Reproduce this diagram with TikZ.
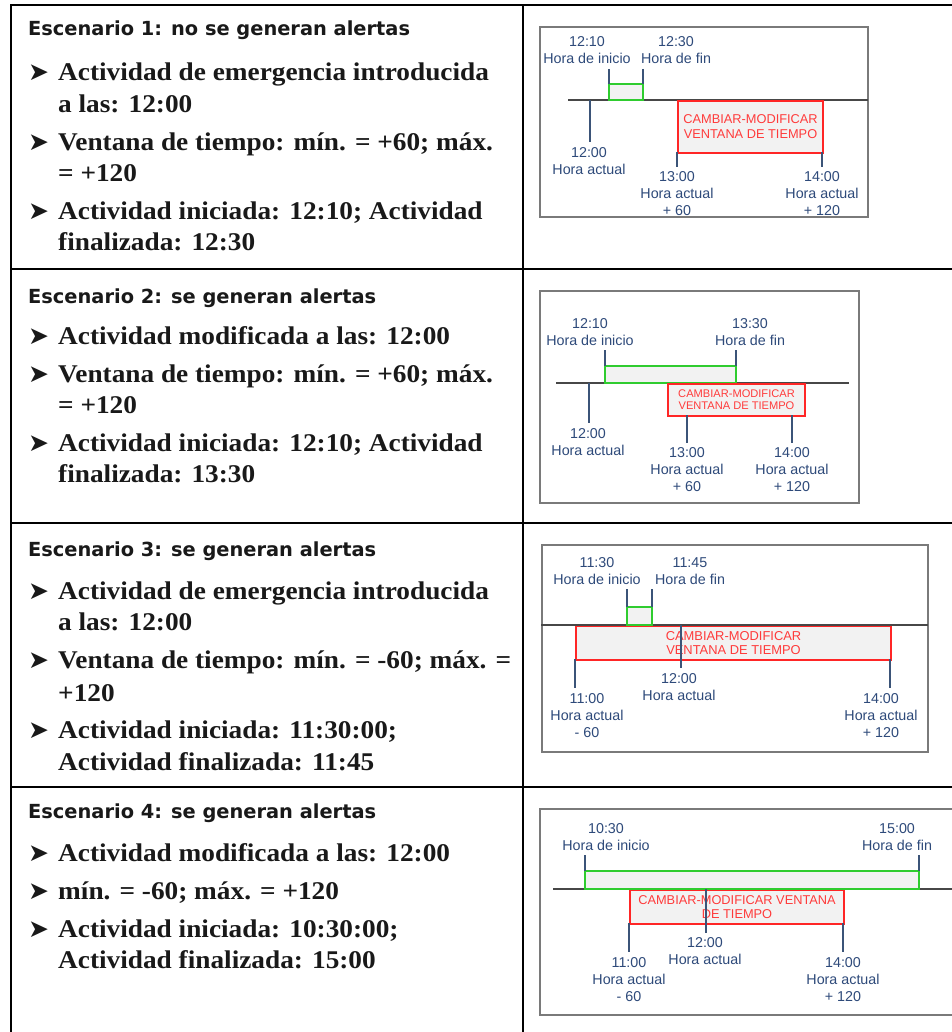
\documentclass[tikz,border=0pt]{standalone}
\usepackage{fontspec}
\newfontfamily\headfont{DejaVu Sans}
\newfontfamily\diafont{Liberation Sans}
\newfontfamily\symfont{DejaVu Sans}
\newfontfamily\itemfont{Liberation Serif}[FakeStretch=1.07]
\definecolor{framegray}{HTML}{7A7A7A}
\definecolor{axisgray}{HTML}{474747}
\definecolor{tickblue}{HTML}{3B5478}
\definecolor{lblue}{HTML}{2E4A7A}
\definecolor{winred}{HTML}{FF2626}
\definecolor{wintxt}{HTML}{FF3B3B}
\definecolor{spangreen}{HTML}{2FCC2F}
\definecolor{boxfill}{HTML}{F2F2F2}
\begin{document}
\begin{tikzpicture}[x=1pt,y=-1pt,
  tbl/.style={draw=black, line width=2.2pt},
  frame/.style={draw=framegray, line width=2pt},
  axis/.style={draw=axisgray, line width=1.5pt},
  tick/.style={draw=tickblue, line width=1.3pt},
  span/.style={draw=spangreen, fill=boxfill, line width=2pt},
  win/.style={draw=winred, fill=boxfill, line width=2pt, inner sep=0pt, anchor=north west, text=wintxt, align=center},
  lbl/.style={font=\diafont\fontsize{14.3}{17}\selectfont, text=lblue, align=center, inner sep=0pt, anchor=north},
  head/.style={font=\headfont\bfseries\fontsize{19.4}{23}\selectfont, text=black!90, anchor=base west, inner sep=0pt},
  itemtxt/.style={font=\itemfont\bfseries\fontsize{25.5}{30}\selectfont, text=black!90, anchor=base west, inner sep=0pt},
  arrowmark/.style={font=\symfont\fontsize{25}{30}\selectfont, text=black!90, anchor=base west, inner sep=0pt}]
\useasboundingbox (0,0) rectangle (951,1032);
\fill[white] (0,0) rectangle (951,1032);

% table rules
\draw[tbl] (960,5) -- (11,5) -- (11,1040);
\draw[tbl] (523,5) -- (523,1040);
\draw[tbl] (11,269) -- (960,269);
\draw[tbl] (11,523) -- (960,523);
\draw[tbl] (11,787) -- (960,787);

% ---------- left column: scenario texts ----------
\node[head] (h1) at (28,36) {Escenario 1: no se generan alertas};
\node[arrowmark] (m11) at (28,81) {➤};
\node[itemtxt] (t11) at (58,81) {Actividad de emergencia introducida};
\node[itemtxt] (t12) at (58,113) {a las: 12:00};
\node[arrowmark] (m12) at (28,151) {➤};
\node[itemtxt] (t13) at (58,151) {Ventana de tiempo: mín. = +60; máx.};
\node[itemtxt] (t14) at (58,182) {= +120};
\node[arrowmark] (m13) at (28,219) {➤};
\node[itemtxt] (t15) at (58,219) {Actividad iniciada: 12:10; Actividad};
\node[itemtxt] (t16) at (58,250) {finalizada: 12:30};

\node[head] (h2) at (28,303) {Escenario 2: se generan alertas};
\node[arrowmark] (m21) at (28,344) {➤};
\node[itemtxt] (t21) at (58,344) {Actividad modificada a las: 12:00};
\node[arrowmark] (m22) at (28,382) {➤};
\node[itemtxt] (t22) at (58,382) {Ventana de tiempo: mín. = +60; máx.};
\node[itemtxt] (t23) at (58,413) {= +120};
\node[arrowmark] (m23) at (28,451) {➤};
\node[itemtxt] (t24) at (58,451) {Actividad iniciada: 12:10; Actividad};
\node[itemtxt] (t25) at (58,482) {finalizada: 13:30};

\node[head] (h3) at (28,556) {Escenario 3: se generan alertas};
\node[arrowmark] (m31) at (28,599) {➤};
\node[itemtxt] (t31) at (58,599) {Actividad de emergencia introducida};
\node[itemtxt] (t32) at (58,630) {a las: 12:00};
\node[arrowmark] (m32) at (28,668) {➤};
\node[itemtxt] (t33) at (58,668) {Ventana de tiempo: mín. = -60; máx. =};
\node[itemtxt] (t34) at (58,701) {+120};
\node[arrowmark] (m33) at (28,738) {➤};
\node[itemtxt] (t35) at (58,738) {Actividad iniciada: 11:30:00;};
\node[itemtxt] (t36) at (58,770) {Actividad finalizada: 11:45};

\node[head] (h4) at (28,818) {Escenario 4: se generan alertas};
\node[arrowmark] (m41) at (28,861) {➤};
\node[itemtxt] (t41) at (58,861) {Actividad modificada a las: 12:00};
\node[arrowmark] (m42) at (28,899) {➤};
\node[itemtxt] (t42) at (58,899) {mín. = -60; máx. = +120};
\node[arrowmark] (m43) at (28,937) {➤};
\node[itemtxt] (t43) at (58,937) {Actividad iniciada: 10:30:00;};
\node[itemtxt] (t44) at (58,968) {Actividad finalizada: 15:00};

% ---------- timeline 1 ----------
\draw[frame] (540,27) rectangle (868,217);
\draw[axis] (568,100) -- (868,100);
\draw[span] (609,84) rectangle (643,100);
\draw[tick] (609,69) -- (609,84);
\draw[tick] (643,69) -- (643,84);
\node[lbl] (a1start) at (587,36) {12:10\\Hora de inicio};
\node[lbl] (a1end) at (676,36) {12:30\\Hora de fin};
\draw[tick] (590,100) -- (590,142);
\node[lbl] (a1now) at (589,147) {12:00\\Hora actual};
\node[win, minimum width=145pt, minimum height=52pt,
      font=\diafont\fontsize{12.8}{15}\selectfont] (a1win) at (677,100)
      {CAMBIAR-MODIFICAR\\VENTANA DE TIEMPO};
\draw[tick] (677,152) -- (677,167);
\draw[tick] (822,152) -- (822,167);
\node[lbl] (a1min) at (677,171) {13:00\\Hora actual\\+ 60};
\node[lbl] (a1max) at (822,171) {14:00\\Hora actual\\+ 120};

% ---------- timeline 2 ----------
\draw[frame] (540,291) rectangle (859,503);
\draw[axis] (556,383) -- (849,383);
\draw[span] (605,366) rectangle (736,383);
\draw[tick] (605,350) -- (605,366);
\draw[tick] (736,350) -- (736,366);
\node[lbl] (a2start) at (590,318) {12:10\\Hora de inicio};
\node[lbl] (a2end) at (750,318) {13:30\\Hora de fin};
\draw[tick] (589,383) -- (589,423);
\node[lbl] (a2now) at (588,428) {12:00\\Hora actual};
\node[win, minimum width=137pt, minimum height=32pt,
      font=\diafont\fontsize{11.1}{12}\selectfont] (a2win) at (667,383)
      {CAMBIAR-MODIFICAR\\VENTANA DE TIEMPO};
\draw[tick] (687,415) -- (687,443);
\draw[tick] (792,415) -- (792,443);
\node[lbl] (a2min) at (687,447) {13:00\\Hora actual\\+ 60};
\node[lbl] (a2max) at (792,447) {14:00\\Hora actual\\+ 120};

% ---------- timeline 3 ----------
\draw[frame] (542,545) rectangle (928,752);
\node[win, minimum width=315pt, minimum height=34pt,
      font=\diafont\fontsize{12.9}{14}\selectfont] (a3win) at (575,625)
      {CAMBIAR-MODIFICAR\\VENTANA DE TIEMPO};
\draw[axis] (541,625) -- (928,625);
\draw[span] (627,607) rectangle (652,625);
\draw[tick] (627,589) -- (627,607);
\draw[tick] (652,589) -- (652,607);
\node[lbl] (a3start) at (597,557) {11:30\\Hora de inicio};
\node[lbl] (a3end) at (690,557) {11:45\\Hora de fin};
\draw[tick] (681,625) -- (681,668);
\node[lbl] (a3now) at (679,673) {12:00\\Hora actual};
\draw[tick] (575,659) -- (575,688);
\draw[tick] (890,659) -- (890,688);
\node[lbl] (a3min) at (587,693) {11:00\\Hora actual\\- 60};
\node[lbl] (a3max) at (881,693) {14:00\\Hora actual\\+ 120};

% ---------- timeline 4 ----------
\draw[frame] (960,809) -- (540,809) -- (540,1015) -- (960,1015);
\node[win, minimum width=214pt, minimum height=34pt,
      font=\diafont\fontsize{12.8}{14}\selectfont] (a4win) at (629,889)
      {CAMBIAR-MODIFICAR VENTANA\\DE TIEMPO};
\draw[axis] (553,889) -- (960,889);
\draw[span] (585,871) rectangle (919,889);
\draw[tick] (585,855) -- (585,871);
\draw[tick] (919,855) -- (919,871);
\node[lbl] (a4start) at (606,823) {10:30\\Hora de inicio};
\node[lbl] (a4end) at (897,823) {15:00\\Hora de fin};
\draw[tick] (706,889) -- (706,933);
\node[lbl] (a4now) at (705,937) {12:00\\Hora actual};
\draw[tick] (629,923) -- (629,952);
\draw[tick] (843,923) -- (843,952);
\node[lbl] (a4min) at (629,957) {11:00\\Hora actual\\- 60};
\node[lbl] (a4max) at (843,957) {14:00\\Hora actual\\+ 120};
\end{tikzpicture}
\end{document}
